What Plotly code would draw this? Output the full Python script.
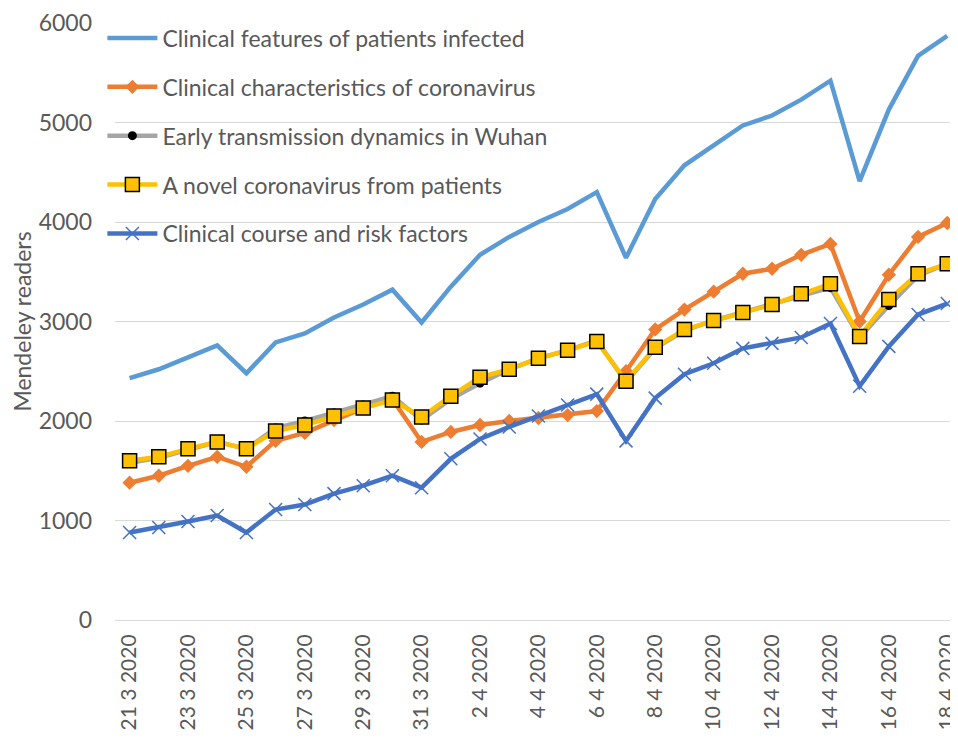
import plotly.graph_objects as go

# dates shown as "day month year" like the source sheet
days = [f"{d} 3 2020" for d in range(21, 32)] + [f"{d} 4 2020" for d in range(1, 19)]

clinical_features = [2430, 2520, 2640, 2760, 2480, 2790, 2880, 3040, 3170, 3320,
                     2990, 3350, 3670, 3850, 4000, 4130, 4300, 3640, 4230, 4570,
                     4770, 4970, 5070, 5230, 5420, 4410, 5130, 5670, 5870]
clinical_characteristics = [1380, 1450, 1550, 1640, 1540, 1800, 1880, 2010, 2130, 2220,
                            1790, 1890, 1960, 2000, 2030, 2060, 2100, 2500, 2920, 3120,
                            3300, 3480, 3530, 3670, 3780, 3000, 3470, 3850, 3990]
early_transmission = [1580, 1630, 1710, 1790, 1720, 1930, 2000, 2080, 2160, 2250,
                      2010, 2220, 2380, 2520, 2630, 2710, 2810, 2390, 2730, 2910,
                      3010, 3090, 3170, 3260, 3340, 2840, 3160, 3460, 3580]
novel_coronavirus = [1600, 1640, 1720, 1790, 1720, 1900, 1960, 2050, 2130, 2210,
                     2040, 2250, 2440, 2520, 2630, 2710, 2800, 2400, 2740, 2920,
                     3010, 3090, 3170, 3280, 3380, 2850, 3220, 3480, 3580]
clinical_course = [880, 930, 990, 1050, 880, 1110, 1160, 1270, 1350, 1450,
                   1330, 1620, 1820, 1940, 2050, 2160, 2270, 1800, 2230, 2470,
                   2580, 2730, 2780, 2840, 2980, 2350, 2750, 3070, 3180]

font = "Lato"
text_col = "#595959"

fig = go.Figure()

fig.add_trace(go.Scatter(x=days, y=clinical_features, mode="lines",
                         name="Clinical features of patients infected", legendgroup="a",
                         line=dict(color="#5B9BD5", width=4.5)))
fig.add_trace(go.Scatter(x=days, y=clinical_characteristics, mode="lines+markers",
                         name="Clinical characteristics of coronavirus", legendgroup="b",
                         line=dict(color="#ED7D31", width=4.5),
                         marker=dict(symbol="diamond", size=11, color="#ED7D31")))
fig.add_trace(go.Scatter(x=days, y=early_transmission, mode="lines+markers",
                         name="Early transmission dynamics in Wuhan", legendgroup="c",
                         line=dict(color="#A5A5A5", width=4.5),
                         marker=dict(symbol="circle", size=9, color="black")))
fig.add_trace(go.Scatter(x=days, y=novel_coronavirus, mode="lines+markers",
                         name="A novel coronavirus from patients", legendgroup="d",
                         line=dict(color="#FFC000", width=4.5),
                         marker=dict(symbol="square", size=14, color="#FFC000",
                                     line=dict(color="black", width=1.5))))
fig.add_trace(go.Scatter(x=days, y=clinical_course, mode="lines+markers",
                         name="Clinical course and risk factors", legendgroup="e",
                         line=dict(color="#4472C4", width=4.5),
                         marker=dict(symbol="x-thin", size=13,
                                     line=dict(color="#4472C4", width=1.5))))

# the page puts the figure 8px in from the top-left corner
fig.update_layout(
    width=950, height=732,
    margin=dict(l=107, r=0, t=12, b=120),
    plot_bgcolor="white", paper_bgcolor="white",
    font=dict(family=font, color=text_col, size=22),
    legend=dict(x=-0.015, y=1.011, xanchor="left", yanchor="top",
                bgcolor="rgba(0,0,0,0)", tracegroupgap=16, itemwidth=50,
                font=dict(size=23, color=text_col)),
    xaxis=dict(type="category", range=[-0.5, 28.3],
               tickmode="array", tickvals=days[::2], ticktext=days[::2],
               tickangle=-90, showgrid=False, showline=False,
               ticks="outside", ticklen=5, tickcolor="rgba(0,0,0,0)",
               ticklabeloverflow="allow",
               tickfont=dict(size=21, color=text_col)),
    yaxis=dict(range=[0, 6000], dtick=1000, showgrid=True,
               gridcolor="#D9D9D9", gridwidth=1,
               zeroline=True, zerolinecolor="#D9D9D9", zerolinewidth=1,
               showline=False, ticks="", ticklabelstandoff=22,
               ticklabeloverflow="allow",
               tickfont=dict(size=23, color=text_col)),
)
fig.update_yaxes(title=dict(text="Mendeley readers", standoff=6,
                            font=dict(size=23, color=text_col)))

fig.write_html("out.html")
